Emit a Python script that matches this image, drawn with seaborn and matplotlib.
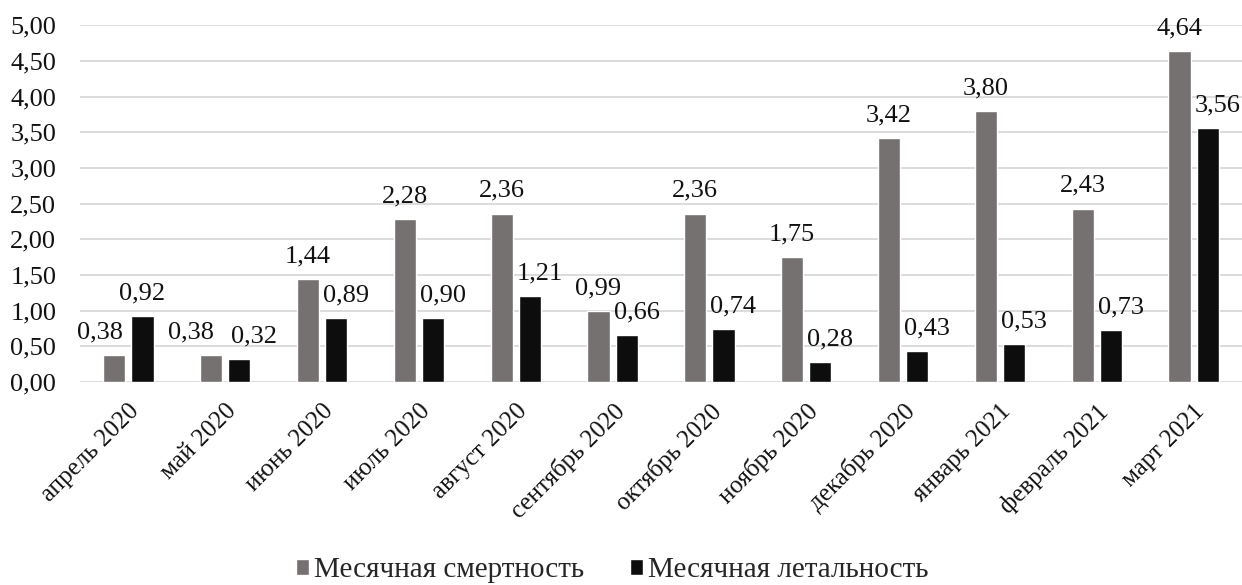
import matplotlib
matplotlib.use("Agg")
import matplotlib.pyplot as plt
import seaborn as sns
import pandas as pd

months = ["апрель 2020", "май 2020", "июнь 2020", "июль 2020", "август 2020",
          "сентябрь 2020", "октябрь 2020", "ноябрь 2020", "декабрь 2020",
          "январь 2021", "февраль 2021", "март 2021"]
mortality = [0.38, 0.38, 1.44, 2.28, 2.36, 0.99, 2.36, 1.75, 3.42, 3.80, 2.43, 4.64]
lethality = [0.92, 0.32, 0.89, 0.90, 1.21, 0.66, 0.74, 0.28, 0.43, 0.53, 0.73, 3.56]
series_names = ["Месячная смертность", "Месячная летальность"]
y_ticks = [0.0, 0.5, 1.0, 1.5, 2.0, 2.5, 3.0, 3.5, 4.0, 4.5, 5.0]

df = pd.DataFrame({
    "month": months * 2,
    "value": mortality + lethality,
    "series": [series_names[0]] * len(months) + [series_names[1]] * len(months),
})

sns.set_theme(style="white")
plt.rcParams["font.family"] = ["Liberation Serif", "DejaVu Serif"]

DPI = 100
fig = plt.figure(figsize=(12.42, 5.85), dpi=DPI)
ax = fig.add_axes([0.0644, 0.347, 0.9356, 0.610])

palette = {series_names[0]: "#767171", series_names[1]: "#0d0d0d"}
sns.barplot(data=df, x="month", y="value", hue="series", palette=palette,
            width=0.58, gap=0.21, ax=ax, legend=True, saturation=1)

def comma(v):
    return f"{v:.2f}".replace(".", ",")

px = 72.0 / DPI  # one pixel in points

# horizontal nudges (pixels) for value labels; lethality labels sit a bit right
grey_shift = [-14, -20, 0, 0, 0, 0, 0, 0, 0, 0, 0, 0]
black_shift = [0, 15, 10, 10, 10, 10, 10, 10, 10, 10, 10, 10]

for cont, shifts in zip(ax.containers, [grey_shift, black_shift]):
    for bar, dx in zip(cont, shifts):
        h = bar.get_height()
        ax.annotate(comma(h), (bar.get_x() + bar.get_width() / 2, h),
                    xytext=(dx * px, 12), textcoords="offset points",
                    ha="center", va="baseline", fontsize=19, color="#111111",
                    annotation_clip=False)

ax.set_ylim(0, 5.0)
ax.set_yticks(y_ticks)
ax.set_yticklabels([comma(t) for t in y_ticks], fontsize=19, color="#111111")
ax.set_xlim(-0.5, len(months) - 0.5)
ax.set_xticks(range(len(months)))
ax.set_xticklabels(months, rotation=45, ha="right", rotation_mode="anchor",
                   fontsize=18, color="#111111")
ax.tick_params(axis="y", length=0, pad=17)
ax.tick_params(axis="x", length=0, pad=13)
ax.set_xlabel("")
ax.set_ylabel("")
ax.yaxis.grid(True, color="#d9d9d9", linewidth=1.3)
ax.set_axisbelow(True)
for s in ax.spines.values():
    s.set_visible(False)

leg = ax.legend(loc="center", bbox_to_anchor=(0.458, -0.527), ncol=2,
                frameon=False, fontsize=21, handlelength=0.45, handleheight=0.45,
                handletextpad=0.15, columnspacing=1.6)

fig.savefig("out.png", dpi=DPI)
